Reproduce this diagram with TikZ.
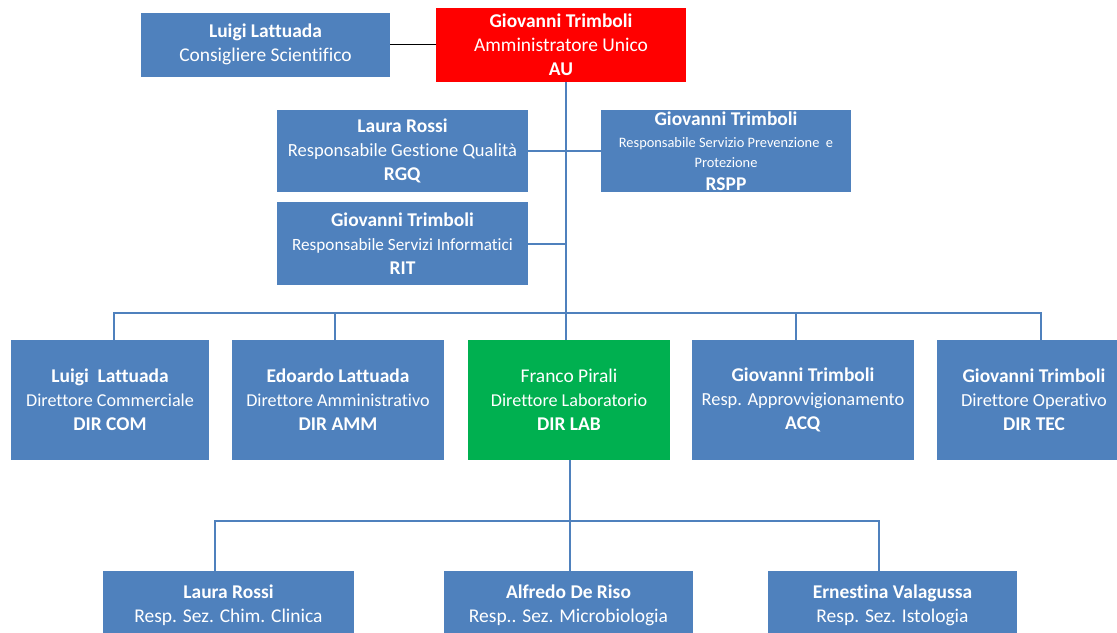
\documentclass[tikz,border=0pt]{standalone}
\usepackage{fontspec}
\setmainfont{Carlito}[Ligatures={NoCommon}]
\definecolor{ofblue}{HTML}{4F81BD}
\definecolor{aured}{HTML}{FF0000}
\definecolor{labgreen}{HTML}{00B050}
\newcommand\midl[2][13.6]{{\fontsize{#1}{18}\selectfont #2}}
\begin{document}
\begin{tikzpicture}[x=0.75pt,y=-0.75pt,
  box/.style={fill=ofblue, draw=none, text=white, align=center, inner sep=0pt,
    font=\fontsize{14.6}{18}\selectfont},
  sz/.style 2 args={minimum width=#1*0.75pt, minimum height=#2*0.75pt},
  conn/.style={draw=ofblue, line width=1.5pt},
  thinconn/.style={draw=ofblue, line width=0.9pt}]
\clip (0,0) rectangle (1117,632);
% top
\node[box,sz={249}{64}] (cs) at (265.5,44.5) {\textbf{Luigi Lattuada}\\Consigliere Scientifico};
\node[box,sz={250}{74},fill=aured] (au) at (561,45) {\textbf{Giovanni Trimboli}\\Amministratore Unico\\\textbf{AU}};
% staff
\node[box,sz={251}{82}] (rgq) at (402.5,151) {\textbf{Laura Rossi}\\\midl[13.9]{Responsabile Gestione\ Qualità}\\\textbf{RGQ}};
\node[box,sz={250}{82}] (rspp) at (726,151) {\textbf{Giovanni Trimboli}\\[-1pt]{\fontsize{10.8}{13.5}\selectfont Responsabile Servizio Prevenzione\ \ e}\\[-3pt]{\fontsize{10.8}{13.5}\selectfont Protezione}\\[-1pt]\textbf{RSPP}};
\node[box,sz={251}{83}] (rit) at (402.5,243.5) {\textbf{Giovanni Trimboli}\\\midl[12.9]{Responsabile Servizi\ Informatici}\\\textbf{RIT}};
% directors
\node[box,sz={198}{120}] (dircom) at (110,400) {\textbf{Luigi\ \ Lattuada}\\\midl{Direttore\ Commerciale}\\\textbf{DIR COM}};
\node[box,sz={212}{120}] (diramm) at (338,400) {\textbf{Edoardo Lattuada}\\\midl{Direttore Amministrativo}\\\textbf{DIR AMM}};
\node[box,sz={202}{120},fill=labgreen] (dirlab) at (569,400) {Franco Pirali\\\midl{Direttore Laboratorio}\\\textbf{DIR LAB}};
\node[box,sz={222}{120}] (acq) at (803,400) {\textbf{Giovanni Trimboli}\\\midl[13.8]{Resp. Approvvigionamento}\\\textbf{ACQ}};
\node[box,sz={194}{120}] (dirtec) at (1034,400) {\textbf{Giovanni Trimboli}\\\midl[13.8]{Direttore Operativo}\\\textbf{DIR TEC}};
% sections
\node[box,sz={251}{68}] (lr) at (228.5,605) {\textbf{Laura Rossi}\\Resp. Sez. Chim. Clinica};
\node[box,sz={249}{68}] (alf) at (568.5,605) {\textbf{Alfredo De Riso}\\Resp.. Sez. Microbiologia};
\node[box,sz={249}{68}] (ev) at (892.5,605) {\textbf{Ernestina Valagussa}\\Resp. Sez. Istologia};
% coordinates
\coordinate (bus) at (566,313);
\coordinate (bus2) at (570,521);
\coordinate (c1) at ([xshift=3pt]dircom.north);
\coordinate (c2) at ([xshift=-2.25pt]diramm.north);
\coordinate (c4) at ([xshift=-5.25pt]acq.north);
\coordinate (c5) at ([xshift=5.25pt]dirtec.north);
\coordinate (d1) at ([xshift=-10.5pt]lr.north);
\coordinate (d3) at ([xshift=-10.5pt]ev.north);
% connectors
\draw[black, line width=0.9pt] (cs.east) -- (cs.east -| au.west);
\draw[thinconn] (au.south -| bus) -- (dirlab.north -| bus);
\draw[conn] (rgq.east) -- (rgq.east -| bus);
\draw[conn] (rspp.west) -- (rspp.west -| bus);
\draw[conn] (rit.east) -- (rit.east -| bus);
\draw[conn] (c1) -- (c1 |- bus) -- (c5 |- bus) -- (c5);
\draw[conn] (c2) -- (c2 |- bus);
\draw[conn] (c4) -- (c4 |- bus);
\draw[thinconn] (dirlab.south -| bus2) -- (alf.north -| bus2);
\draw[conn] (d1) -- (d1 |- bus2) -- (d3 |- bus2) -- (d3);
\end{tikzpicture}
\end{document}
